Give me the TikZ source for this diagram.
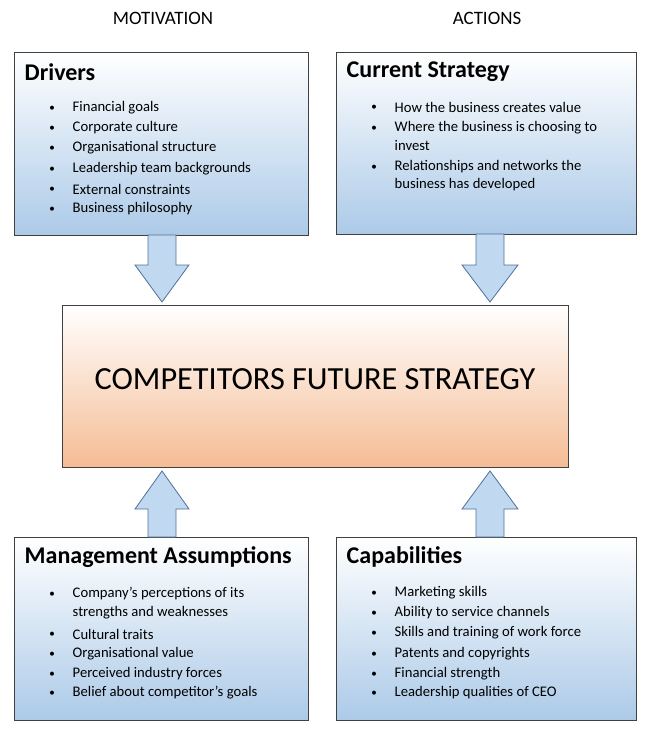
\documentclass[tikz,border=0pt]{standalone}
\usepackage{fontspec}
\setmainfont{Carlito}
\definecolor{bbot}{RGB}{172,202,232}
\definecolor{obot}{RGB}{245,188,148}
\definecolor{afill}{RGB}{192,216,240}
\definecolor{aline}{RGB}{80,112,152}
\begin{document}
\begin{tikzpicture}[x=0.75pt,y=-0.75pt,
 box/.style={draw=black!75,line width=0.6pt,top color=white,bottom color=bbot,anchor=north west,inner sep=0pt},
 cbox/.style={draw=black!75,line width=0.6pt,top color=white,bottom color=obot,anchor=north west,inner sep=0pt},
 ttl/.style={anchor=west,font=\fontsize{18}{21}\selectfont\bfseries},
 itm/.style={anchor=west,font=\fontsize{11}{13}\selectfont},
 hdr/.style={font=\fontsize{14.2}{16}\selectfont},
 arr/.style={draw=aline,line width=0.6pt,fill=afill}]
\useasboundingbox (0,0) rectangle (647,731);
\node[hdr] (m) at (163,18) {MOTIVATION};
\node[hdr] (a) at (487,18) {ACTIONS};
\node[box,minimum width=294pt*0.75,minimum height=183pt*0.75] (d) at (14,52) {};
\node[box,minimum width=300pt*0.75,minimum height=182pt*0.75] (c) at (336,52) {};
\node[box,minimum width=294pt*0.75,minimum height=183pt*0.75] (ma) at (14,537) {};
\node[box,minimum width=300pt*0.75,minimum height=183pt*0.75] (ca) at (336,537) {};
\node[cbox,minimum width=506pt*0.75,minimum height=162pt*0.75] (f) at (62,305) {};
\node[font=\fontsize{24.2}{28}\selectfont] (ft) at (315,379) {COMPETITORS FUTURE STRATEGY};
% arrows
\draw[arr] (148,235) -- (176,235) -- (176,265) -- (189,265) -- (162,302) -- (135,265) -- (148,265) -- cycle;
\draw[arr] (476,234) -- (504,234) -- (504,265) -- (518,265) -- (490,302) -- (462,265) -- (476,265) -- cycle;
\draw[arr] (148,537) -- (176,537) -- (176,509) -- (189,509) -- (162,471) -- (135,509) -- (148,509) -- cycle;
\draw[arr] (476,537) -- (504,537) -- (504,509) -- (518,509) -- (490,471) -- (462,509) -- (476,509) -- cycle;
\newcommand\bl[3]{\node[anchor=center,font=\fontsize{7}{8}\selectfont] at (#1-20,#2) {$\bullet$};\node[itm] at (#1-4,#2) {#3};}
\newcommand\contline[3]{\node[itm] at (#1-4,#2) {#3};}
\node[ttl] (t1) at (20,72) {Drivers};
\bl{72}{108}{Financial goals}
\bl{72}{128}{Corporate culture}
\bl{72}{148}{Organisational structure}
\bl{72}{169}{Leadership team backgrounds}
\bl{72}{189}{External constraints}
\bl{72}{209}{Business philosophy}
\node[ttl] (t2) at (342,72) {Current Strategy};
\bl{394}{107}{How the business creates value}
\bl{394}{128}{Where the business is choosing to}
\contline{394}{146}{invest}
\bl{394}{167}{Relationships and networks the}
\contline{394}{185}{business has developed}
\node[ttl] (t3) at (20,557) {Management Assumptions};
\bl{72}{594}{Company’s perceptions of its}
\contline{72}{613}{strengths and weaknesses}
\bl{72}{634}{Cultural traits}
\bl{72}{654}{Organisational value}
\bl{72}{674}{Perceived industry forces}
\bl{72}{693}{Belief about competitor’s goals}
\node[ttl] (t4) at (342,557) {Capabilities};
\bl{394}{593}{Marketing skills}
\bl{394}{613}{Ability to service channels}
\bl{394}{633}{Skills and training of work force}
\bl{394}{654}{Patents and copyrights}
\bl{394}{674}{Financial strength}
\bl{394}{693}{Leadership qualities of CEO}
\end{tikzpicture}
\end{document}
